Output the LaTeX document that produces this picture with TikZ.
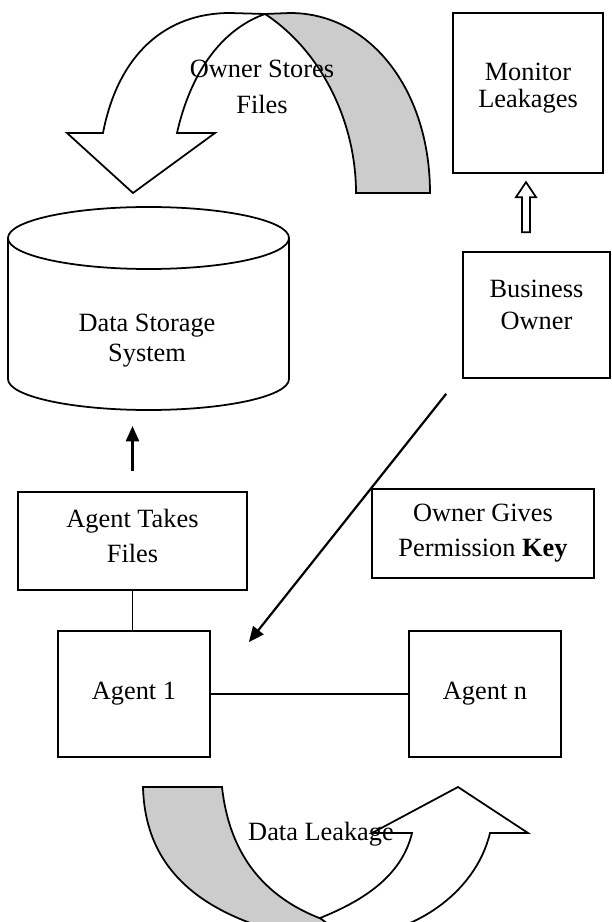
\documentclass[tikz,border=0pt]{standalone}
\usepackage{fontspec}
\setmainfont{Liberation Serif}
\usetikzlibrary{arrows.meta}

\begin{document}
\begin{tikzpicture}[x=0.016cm, y=-0.016cm,
    box/.style={draw, line width=0.8pt, inner sep=0pt, align=center, font=\fontsize{12}{#1}\selectfont},
    box/.default=16pt,
    txt/.style={align=center, font=\fontsize{12}{#1}\selectfont},
    txt/.default=16pt,
    band/.style={draw, line width=0.8pt},
    arr/.style={line width=1pt, -{Triangle[length=7pt,width=6pt]}}]
            \useasboundingbox (0,0) rectangle (611,922);
            \clip (0,0) rectangle (611,922);

            % curved arrow over the storage
            \draw [band, fill=black!20](265,14) .. controls (320,50) and (356,120) .. (356,193) -- (430,193) .. controls (430,90) and (370,13) .. (290,13) -- cycle;
            \draw [band, fill=white](133,193) -- (67,133) -- (103,133) .. controls (118,55) and (165,13) .. (230,13) -- (265,14) .. controls (220,30) and (190,75) .. (177,133) -- (215,133) -- cycle;
            \node [txt=16.4pt] (stores) at (262,87) {Owner Stores\\Files};

            % storage cylinder
            \draw [line width=0.8pt, fill=white](8,238) -- (8,379) arc[start angle=180, end angle=0, x radius=140.5, y radius=31] -- (289,238);
            \draw [line width=0.8pt](148.5,238) ellipse[x radius=140.5, y radius=31];
            \node [txt=13.7pt] (storage) at (147,341) {Data Storage\\System};
            \coordinate (dsbottom) at (132.5,410);

            \node [box=12.3pt, minimum width=2.4cm, minimum height=2.56cm, text depth=7pt] (monitor) at (528,93) {Monitor\\Leakages};
            \node [box=14.6pt, minimum width=2.352cm, minimum height=2.016cm, text depth=9pt] (owner) at (536.5,315) {Business\\Owner};
            \node [box, minimum width=3.664cm, minimum height=1.568cm, text depth=4.5pt] (takes) at (132.5,541) {Agent Takes\\Files};
            \node [box, minimum width=3.552cm, minimum height=1.424cm] (perm) at (483,533.5) {Owner Gives\\Permission \textbf{Key}};
            \node [box, minimum width=2.432cm, minimum height=2.016cm] (agentone) at (134,694) {Agent 1};
            \node [box, minimum width=2.432cm, minimum height=2.016cm] (agentn) at (485,694) {Agent n};

            % hollow arrow up to the monitor
            \draw [band]([shift={(-14.5,-19)}]owner.north) -- ++(0,-35) -- ++(-6,0) -- ++(10,-15) -- ++(10,15) -- ++(-6,0) -- ++(0,35) -- cycle;

            \draw [arr, shorten <=9pt, shorten >=7.3pt](takes.north) -- (dsbottom);
            \draw [arr]([shift={(-16,15)}]owner.south west) -- ([shift={(38,12)}]agentone.north east);
            \draw [line width=0.8pt](takes.south) -- (takes.south |- agentone.north);
            \draw [line width=1pt](agentone) -- (agentn);

            % curved arrow under the agents
            \draw [band, fill=black!20](143,787) -- (222,787) .. controls (230,860) and (270,905) .. (340,925) -- (300,940) -- (290,935) .. controls (195,912) and (145,865) .. (143,787) -- cycle;
            \draw [band, fill=white](320,918) .. controls (365,900) and (402,875) .. (412,833) -- (372,833) -- (458,787) -- (528,833) -- (490,833) .. controls (475,895) and (410,937) .. (345,937) -- cycle;
            \node [txt] (leak) at (321,834) {Data Leakage};
            \end{tikzpicture}
\end{document}
